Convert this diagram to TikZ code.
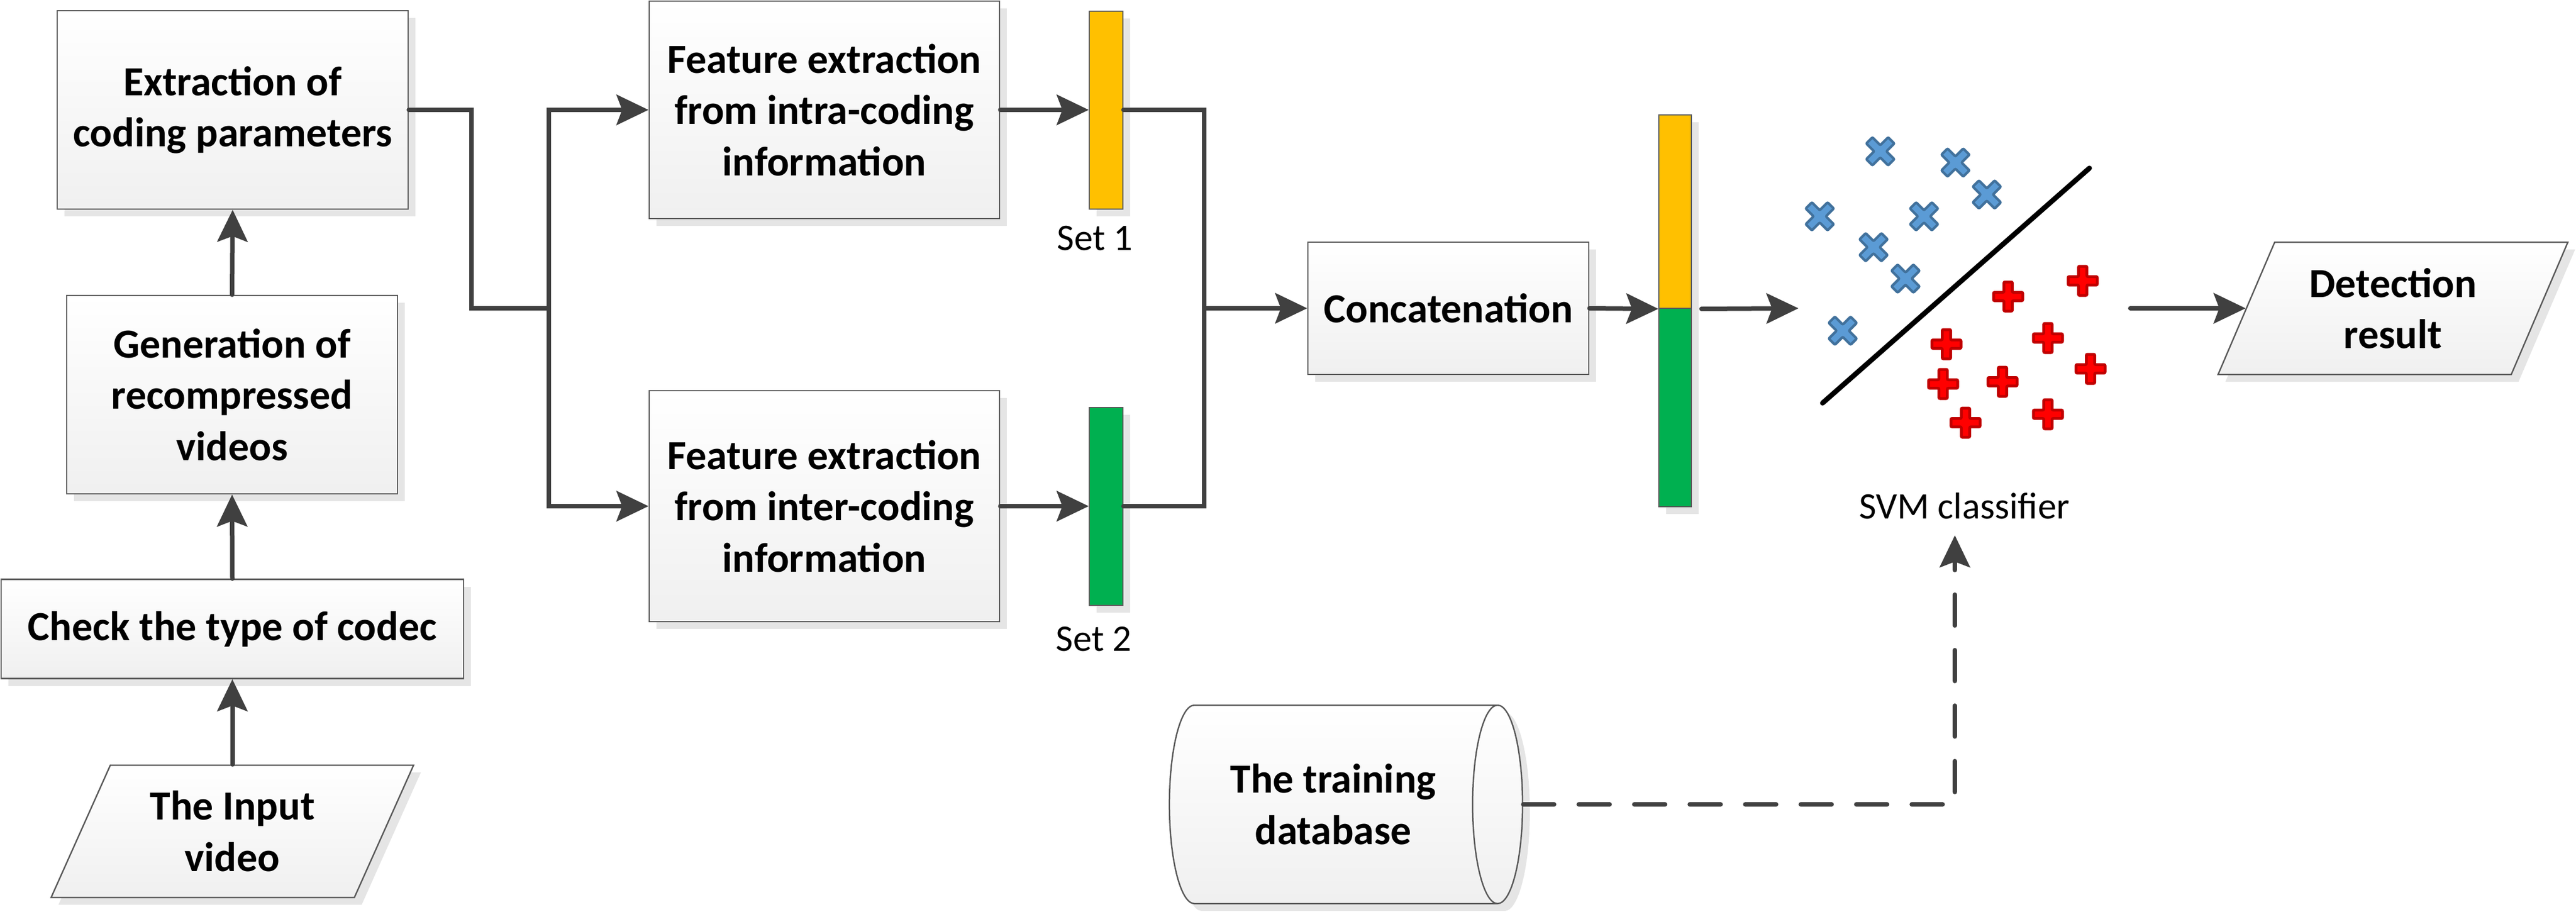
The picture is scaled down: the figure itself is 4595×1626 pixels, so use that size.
\documentclass[tikz,border=0pt]{standalone}
\usepackage{fontspec}
\setmainfont{Carlito}
\usepackage{xcolor}
\usepackage{tikz}
\usetikzlibrary{arrows.meta, shapes.geometric, shadows}

\definecolor{linegray}{HTML}{404040}
\definecolor{edgegray}{HTML}{595959}
\definecolor{setyellow}{HTML}{FFC000}
\definecolor{setgreen}{HTML}{00B050}
\definecolor{xblue}{HTML}{5B9BD5}
\definecolor{xblueline}{HTML}{41719C}
\definecolor{pred}{HTML}{FF0000}
\definecolor{predline}{HTML}{C00000}

\newcommand{\boxfont}{\bfseries\fontsize{21}{26}\selectfont}
\newcommand{\labelfont}{\fontsize{19}{22}\selectfont}

\tikzset{
  boxshadow/.style={drop shadow={shadow xshift=1.3mm, shadow yshift=-1.3mm, fill=black!10, opacity=1}},
  block/.style={draw=edgegray, line width=0.25mm, top color=white, bottom color=black!6,
    boxshadow, align=center, inner sep=0pt, font=\boxfont},
  iobox/.style={block, trapezium, trapezium left angle=63.6, trapezium right angle=116.4,
    trapezium stretches=true, minimum height=23.6mm},
  setbar/.style={draw=edgegray, line width=0.2mm, minimum width=6mm, minimum height=35.3mm,
    inner sep=0pt, boxshadow},
  setlabel/.style={font=\labelfont, inner sep=0pt},
  conn/.style={draw=linegray, line width=0.8mm, line cap=round},
  arr/.style={conn, -{Stealth[length=5.7mm, width=5.4mm, inset=1mm]}},
  bluecross/.pic={\filldraw[fill=xblue, draw=xblueline, line width=0.45mm, rounded corners=0.2mm]
    (-25,-14) -- (-14,-25) -- (0,-11) -- (14,-25) -- (25,-14) -- (11,0) -- (25,14)
    -- (14,25) -- (0,11) -- (-14,25) -- (-25,14) -- (-11,0) -- cycle;},
  redplus/.pic={\filldraw[fill=pred, draw=predline, line width=0.5mm, rounded corners=0.2mm]
    (-7.5,-26) -- (7.5,-26) -- (7.5,-7.5) -- (26,-7.5) -- (26,7.5) -- (7.5,7.5) -- (7.5,26)
    -- (-7.5,26) -- (-7.5,7.5) -- (-26,7.5) -- (-26,-7.5) -- (-7.5,-7.5) -- cycle;}
}

\begin{document}
\begin{tikzpicture}[x=0.1mm, y=-0.1mm]
        \useasboundingbox (0,0) rectangle (4595,1626);
        % Draw the input chain
        \node[iobox, minimum width=64.7mm] (input) at (414.5,1483) {The Input\\video};
        \node[block, minimum width=82.5mm, minimum height=17.7mm] (codec) at (414.5,1122) {Check the type of codec};
        \node[block, minimum width=59mm, minimum height=35.4mm] (regen) at (414,704) {Generation of\\recompressed\\videos};
        \node[block, minimum width=62.6mm, minimum height=35.4mm] (extract) at (415,196) {Extraction of\\coding parameters};
        % Draw the feature extractors and feature sets
        \node[block, minimum width=62.5mm, minimum height=38.8mm] (intra) at (1470.5,196) {Feature extraction\\from intra-coding\\information};
        \node[block, minimum width=62.5mm, minimum height=41.2mm] (inter) at (1470.5,903) {Feature extraction\\from inter-coding\\information};
        \node[setbar, fill=setyellow] (set1) at (1973,196) {};
        \node[setbar, fill=setgreen] (set2) at (1973,903) {};
        \node[setlabel] (set1lbl) at (1953,425) {Set 1};
        \node[setlabel] (set2lbl) at (1951,1140) {Set 2};
        % Draw the concatenation and the joint vector
        \node[block, minimum width=50.1mm, minimum height=23.6mm] (concat) at (2583.5,550) {Concatenation};
        \node[setbar, fill=setyellow, minimum width=5.8mm, minimum height=34.5mm] (cattop) at (2988,377.5) {};
        \node[setbar, fill=setgreen, minimum width=5.8mm, minimum height=35.4mm] (catbot) at (2988,727) {};
        % Draw the classifier
        \draw[line width=0.9mm, line cap=round] (3251,719) -- (3727,300);
        \foreach \px/\py in {3354/270, 3488/290, 3544/347, 3246/386, 3432/386, 3342/441, 3399/497, 3287/590}
          \pic at (\px,\py) {bluecross};
        \foreach \px/\py in {3715/501, 3582/529, 3653/603, 3472/614, 3729/658, 3466/685, 3572/681, 3506/754, 3653/739}
          \pic at (\px,\py) {redplus};
        \node[setlabel] (svmlbl) at (3504,903) {SVM classifier};
        \node[iobox, minimum width=62.4mm] (detect) at (4268.5,550) {Detection\\result};
        \node[block, cylinder, aspect=0.62, minimum width=35.4mm, minimum height=63mm] (traindb) at (2378,1435) {The training\\database};
        \coordinate (fork) at (979,550);
        \coordinate (merge) at (2148,550);
        \coordinate (svmin) at (3208,550);
        \coordinate (svmout) at (3800,550);
        \coordinate (svmbase) at (3487,955);
        % Draw arrows
        \draw[arr] (input.north -| codec.south) -- (codec.south);
        \draw[arr] (codec.north) -- (regen.south);
        \draw[arr] (regen.north) -- (extract.south);
        \draw[conn] (extract.east) -- ++(112,0) |- (fork);
        \draw[arr] (fork) |- (intra.west);
        \draw[arr] (fork) |- (inter.west);
        \draw[arr] (intra.east) -- (set1.west);
        \draw[arr] (inter.east) -- (set2.west);
        \draw[conn] (set1.east) -| (merge) |- (set2.east);
        \draw[arr] (merge) -- (concat.west);
        \draw[arr] (concat.east) -- (cattop.south west);
        \draw[arr] ([xshift=1.7mm]cattop.south east) -- (svmin);
        \draw[arr] (svmout) -- (detect.west);
        \draw[arr, dash pattern=on 5.5mm off 4.4mm] (traindb.east) -| (svmbase);
\end{tikzpicture}
\end{document}
